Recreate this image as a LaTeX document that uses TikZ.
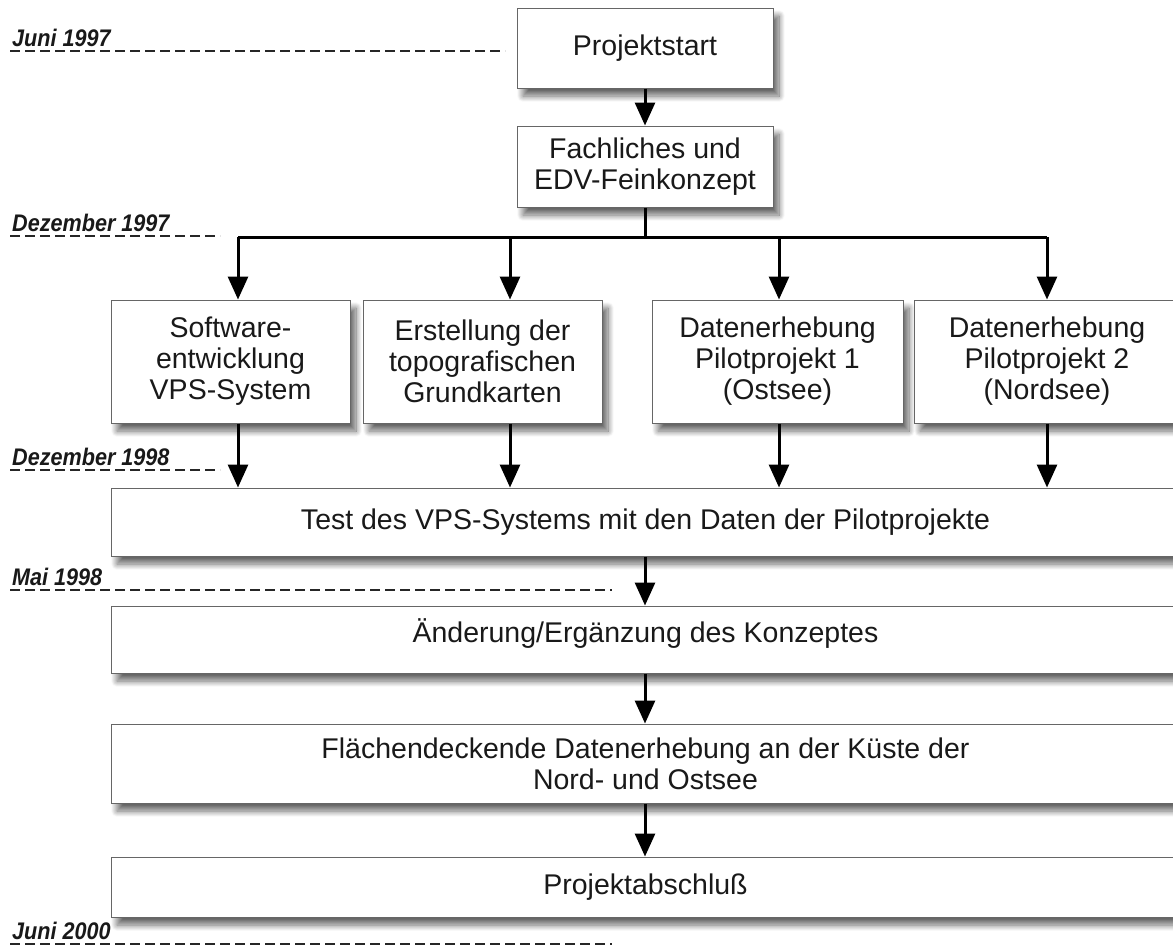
\documentclass[tikz,border=0pt]{standalone}
\usepackage{fontspec}
\usepackage{graphicx}
\setmainfont{Liberation Sans}
\usetikzlibrary{arrows.meta,shadows.blur,calc}
\newcommand\boxfont{\fontsize{28.5}{31}\selectfont}
\newcommand\datefont{\fontsize{24}{26}\selectfont\bfseries\itshape}
\newcommand\datum[1]{\scalebox{0.9}[1]{#1}}
\tikzset{
  box/.style={draw=black!60, line width=1pt, fill=white, align=center,
    inner sep=0pt, font=\boxfont, text=black!90,
    blur shadow={shadow xshift=6pt, shadow yshift=-8pt,
      shadow blur radius=6pt, shadow blur steps=12, shadow opacity=60}},
  flow/.style={line width=3pt, -{Triangle[length=23pt,width=20pt]}},
  bus/.style={line width=3pt},
  datelabel/.style={font=\datefont, anchor=base west, inner sep=0pt, text=black!90},
  timeline/.style={line width=2pt, dash pattern=on 10pt off 5pt, black!85},
}
\begin{document}
\begin{tikzpicture}[x=1pt,y=-1pt]
\useasboundingbox (0,0) rectangle (1173,948);

% process boxes
\node[box, minimum width=256pt, minimum height=80pt]  (start) at (645,48)    {Projektstart};
\node[box, minimum width=256pt, minimum height=81pt]  (fach)  at (645,166.5) {Fachliches und\\EDV-Feinkonzept};
\node[box, minimum width=239pt, minimum height=123pt] (soft)  at (230.5,361.5) {Software-\\entwicklung\\VPS-System};
\node[box, minimum width=239pt, minimum height=123pt] (karte) at (482.5,361.5) {Erstellung der\\topografischen\\Grundkarten};
\node[box, minimum width=251pt, minimum height=123pt] (ost)   at (777.5,361.5) {Datenerhebung\\Pilotprojekt 1\\(Ostsee)};
\node[box, minimum width=266pt, minimum height=123pt] (nord)  at (1047,361.5) {Datenerhebung\\Pilotprojekt 2\\(Nordsee)};
\node[box, minimum width=1069pt, minimum height=68pt] (test)  at (645.5,522) {Test des VPS-Systems mit den Daten der Pilotprojekte};
\node[box, minimum width=1069pt, minimum height=67pt] (aend)  at (645.5,639.5) {\raisebox{6pt}[\height][\depth]{Änderung/Ergänzung des Konzeptes}};
\node[box, minimum width=1069pt, minimum height=79pt] (flaech) at (645.5,763.5) {Flächendeckende Datenerhebung an der Küste der\\Nord- und Ostsee};
\node[box, minimum width=1069pt, minimum height=60pt] (ende)  at (645.5,887) {Projektabschluß};

% distribution bus
\coordinate (bus0) at (645,237);
\coordinate (bus1) at (238,237);
\coordinate (bus2) at (510,237);
\coordinate (bus3) at (779,237);
\coordinate (bus4) at (1047,237);

\draw[flow] (start) -- (fach);
\draw[bus] (fach.south) -- (bus0);
\draw[bus] (bus1) -- (bus4);
\foreach \b/\n in {bus1/soft, bus2/karte, bus3/ost, bus4/nord}{
  \draw[flow] (\b) -- (\b |- \n.north);
  \draw[flow] (\b |- \n.south) -- (\b |- test.north);
}
\draw[flow] (test.south -| bus0) -- (aend.north -| bus0);
\draw[flow] (aend.south -| bus0) -- (flaech.north -| bus0);
\draw[flow] (flaech.south -| bus0) -- (ende.north -| bus0);

% milestones on the time axis
\node[datelabel] (d1) at (12,46)  {\datum{Juni 1997}};
\node[datelabel] (d2) at (12,231) {\datum{Dezember 1997}};
\node[datelabel] (d3) at (12,465) {\datum{Dezember 1998}};
\node[datelabel] (d4) at (12,585) {\datum{Mai 1998}};
\node[datelabel] (d5) at (12,939) {\datum{Juni 2000}};
\draw[timeline] (10,51)  -- (505,51);
\draw[timeline] (10,236) -- (220,236);
\draw[timeline] (10,470) -- (220,470);
\draw[timeline] (10,590) -- (612,590);
\draw[timeline] (10,944) -- (612,944);
\end{tikzpicture}
\end{document}
